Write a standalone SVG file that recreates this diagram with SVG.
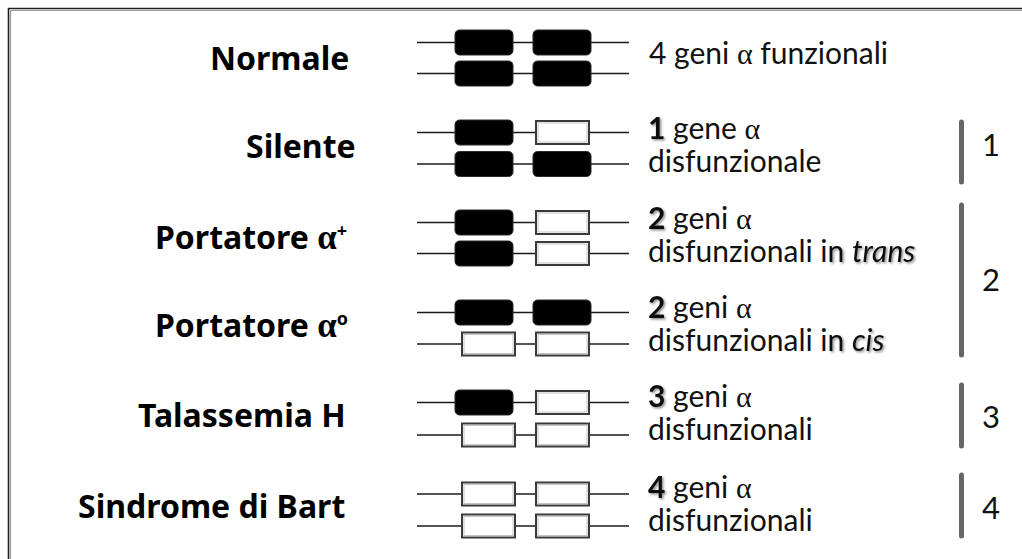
<svg xmlns="http://www.w3.org/2000/svg" xmlns:xlink="http://www.w3.org/1999/xlink" width="1022" height="559" viewBox="0 0 1022 559">
  <style>
    .label { font-family: "Noto Sans", "Open Sans", sans-serif; font-weight: bold; font-size: 32px; fill: #000; }
    .label .greek { font-size: 35px; font-weight: bold; }
    .desc { font-family: Lato, "Noto Sans", sans-serif; font-size: 30px; fill: #111; }
    .num { font-weight: bold; filter: url(#shade); }
    .shd { filter: url(#shade); }
    .greek { font-family: "Liberation Serif", serif; }
    .sup { font-size: 18px; }
    .chrom { stroke: #1a1a1a; stroke-width: 1.6; fill: none; }
    .grade { stroke: #666; stroke-width: 5; stroke-linecap: round; fill: none; }
    .gradenum { font-family: Lato, "Noto Sans", sans-serif; font-size: 31px; fill: #111; }
  </style>
  <defs>
    <filter id="shade" x="-20%" y="-20%" width="160%" height="160%">
      <feDropShadow dx="1.5" dy="1.5" stdDeviation="0.9" flood-color="#000" flood-opacity="0.45"/>
    </filter>
    <!-- functional gene: solid rounded block -->
    <g id="gene-on">
      <rect x="0" y="0" width="58" height="25" rx="4.5" fill="#000" stroke="#2a2a2a" stroke-width="1"/>
    </g>
    <!-- deleted gene: hollow block -->
    <g id="gene-off">
      <rect x="0" y="0" width="53" height="23" fill="#fff" stroke="#3a3a3a" stroke-width="2"/>
      <rect x="2" y="2" width="49" height="19" fill="none" stroke="#c4c4c4" stroke-width="1"/>
    </g>
  </defs>

  <rect width="1022" height="559" fill="#fff"/>
  <!-- outer frame (top and left edges) -->
  <path d="M8.5 559 V8.5 H1022" fill="none" stroke="#1e1e1e" stroke-width="1.6"/>
  <path d="M10.5 559 V10.5 H1022" fill="none" stroke="#9a9a9a" stroke-width="1.2"/>

  <!-- chromosome lines -->
  <g id="connectors">
    <line class="chrom" x1="417" y1="42.5" x2="629" y2="42.5"/>
    <line class="chrom" x1="417" y1="73.5" x2="629" y2="73.5"/>
    <line class="chrom" x1="417" y1="132.5" x2="629" y2="132.5"/>
    <line class="chrom" x1="417" y1="164" x2="629" y2="164"/>
    <line class="chrom" x1="417" y1="222.5" x2="629" y2="222.5"/>
    <line class="chrom" x1="417" y1="253.5" x2="629" y2="253.5"/>
    <line class="chrom" x1="417" y1="312.5" x2="629" y2="312.5"/>
    <line class="chrom" x1="417" y1="344" x2="629" y2="344"/>
    <line class="chrom" x1="417" y1="402.5" x2="629" y2="402.5"/>
    <line class="chrom" x1="417" y1="435" x2="629" y2="435"/>
    <line class="chrom" x1="417" y1="494" x2="629" y2="494"/>
    <line class="chrom" x1="417" y1="526" x2="629" y2="526"/>
  </g>

  <g id="normale">
    <text class="label" x="210" y="69.5">Normale</text>
    <use xlink:href="#gene-on" x="455" y="30"/>
    <use xlink:href="#gene-on" x="533" y="30"/>
    <use xlink:href="#gene-on" x="455" y="61"/>
    <use xlink:href="#gene-on" x="533" y="61"/>
    <text class="desc" x="649" y="64">4 geni <tspan class="greek">α</tspan> funzionali</text>
  </g>

  <g id="silente">
    <text class="label" x="246" y="157.5">Silente</text>
    <use xlink:href="#gene-on" x="455" y="120"/>
    <use xlink:href="#gene-off" x="536" y="121"/>
    <use xlink:href="#gene-on" x="455" y="151.5"/>
    <use xlink:href="#gene-on" x="533" y="151.5"/>
    <text class="desc" x="648" y="139"><tspan class="num">1</tspan> gene <tspan class="greek">α</tspan></text>
    <text class="desc" x="648" y="172">disfunzionale</text>
  </g>

  <g id="portatore-alfa-plus">
    <text class="label" x="155" y="248.5">Portatore <tspan class="greek">α</tspan><tspan class="sup" dy="-12">+</tspan></text>
    <use xlink:href="#gene-on" x="455" y="210"/>
    <use xlink:href="#gene-off" x="536" y="211"/>
    <use xlink:href="#gene-on" x="455" y="241"/>
    <use xlink:href="#gene-off" x="536" y="242"/>
    <text class="desc" x="648" y="229"><tspan class="num">2</tspan> geni <tspan class="greek">α</tspan></text>
    <text class="desc" x="648" y="262">disfunzionali i<tspan class="shd">n <tspan font-style="italic">trans</tspan></tspan></text>
  </g>

  <g id="portatore-alfa-zero">
    <text class="label" x="155" y="336.5">Portatore <tspan class="greek">α</tspan><tspan class="sup" dy="-12">o</tspan></text>
    <use xlink:href="#gene-on" x="455" y="300"/>
    <use xlink:href="#gene-on" x="533" y="300"/>
    <use xlink:href="#gene-off" x="462" y="332.5"/>
    <use xlink:href="#gene-off" x="536" y="332.5"/>
    <text class="desc" x="648" y="318"><tspan class="num">2</tspan> geni <tspan class="greek">α</tspan></text>
    <text class="desc" x="648" y="351">disfunzionali i<tspan class="shd">n <tspan font-style="italic">cis</tspan></tspan></text>
  </g>

  <g id="talassemia-h">
    <text class="label" x="138" y="426.5">Talassemia H</text>
    <use xlink:href="#gene-on" x="455" y="390"/>
    <use xlink:href="#gene-off" x="536" y="391"/>
    <use xlink:href="#gene-off" x="462" y="423.5"/>
    <use xlink:href="#gene-off" x="536" y="423.5"/>
    <text class="desc" x="648" y="407"><tspan class="num">3</tspan> geni <tspan class="greek">α</tspan></text>
    <text class="desc" x="648" y="440">disfunzionali</text>
  </g>

  <g id="sindrome-bart">
    <text class="label" x="78" y="517.5">Sindrome di Bart</text>
    <use xlink:href="#gene-off" x="462" y="482.5"/>
    <use xlink:href="#gene-off" x="536" y="482.5"/>
    <use xlink:href="#gene-off" x="462" y="514.5"/>
    <use xlink:href="#gene-off" x="536" y="514.5"/>
    <text class="desc" x="648" y="498"><tspan class="num">4</tspan> geni <tspan class="greek">α</tspan></text>
    <text class="desc" x="648" y="531">disfunzionali</text>
  </g>

  <!-- severity brackets -->
  <g id="grade-1">
    <line class="grade" x1="961.5" y1="122" x2="961.5" y2="182"/>
    <text class="gradenum" x="982" y="156">1</text>
  </g>
  <g id="grade-2">
    <line class="grade" x1="961.5" y1="205" x2="961.5" y2="355"/>
    <text class="gradenum" x="982" y="291">2</text>
  </g>
  <g id="grade-3">
    <line class="grade" x1="961.5" y1="385" x2="961.5" y2="446"/>
    <text class="gradenum" x="982" y="428">3</text>
  </g>
  <g id="grade-4">
    <line class="grade" x1="961.5" y1="475" x2="961.5" y2="536"/>
    <text class="gradenum" x="982" y="519">4</text>
  </g>
</svg>
